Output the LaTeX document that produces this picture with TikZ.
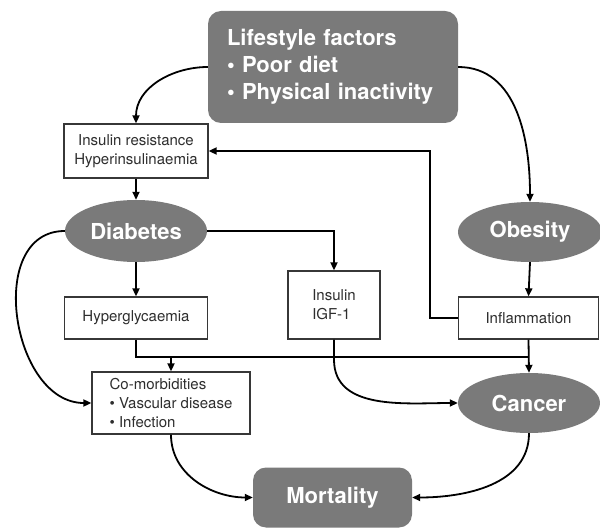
\documentclass[tikz,border=0pt]{standalone}
\usepackage{fontspec}
\setmainfont{TeX Gyre Heros}
\usetikzlibrary{arrows.meta,shapes.geometric}
\definecolor{boxgray}{RGB}{122,122,122}
\definecolor{edgegray}{RGB}{55,55,55}
\tikzset{
  bigtext/.style={font=\fontsize{22}{27}\selectfont\bfseries, text=white},
  smalltext/.style={font=\fontsize{15}{19}\selectfont, text=black!82},
  graybox/.style={fill=boxgray, draw=none, rounded corners=13pt, bigtext, inner sep=0pt},
  grayell/.style={ellipse, fill=boxgray, draw=none, bigtext, inner sep=0pt},
  whitebox/.style={rectangle, fill=white, draw=edgegray, line width=1.3pt, smalltext, inner sep=0pt, align=left},
  arr/.style={line width=1.8pt, -{Triangle[length=8pt,width=7pt]}},
  ln/.style={line width=1.8pt},
}
\begin{document}
\begin{tikzpicture}[x=1pt,y=-1pt]
\useasboundingbox (0,0) rectangle (600,529);
% nodes
\node[graybox, minimum width=250, minimum height=112, text width=212, align=left] (life) at (333,67)
  {Lifestyle factors\\ \textbullet\ Poor diet\\ \textbullet\ Physical inactivity};
\node[whitebox, minimum width=144, minimum height=54, align=center] (ins) at (136,151)
  {Insulin resistance\\Hyperinsulinaemia};
\node[grayell, minimum width=142, minimum height=62] (diab) at (136,231) {Diabetes};
\node[grayell, minimum width=144, minimum height=60] (obes) at (530,232) {Obesity};
\node[whitebox, minimum width=143, minimum height=42] (hyper) at (136,318) {Hyperglycaemia};
\node[whitebox, minimum width=92, minimum height=68] (igf) at (334,305) {Insulin\\IGF-1};
\node[whitebox, minimum width=140, minimum height=42] (infl) at (528.5,318) {Inflammation};
\node[whitebox, minimum width=158, minimum height=62] (comorb) at (171,403)
  {Co-morbidities\\ \textbullet\ Vascular disease\\ \textbullet\ Infection};
\node[grayell, minimum width=142, minimum height=60] (cancer) at (529,403) {Cancer};
\node[graybox, minimum width=159, minimum height=60] (mort) at (332.5,497.5) {Mortality};
\coordinate (j) at (0,357);
\coordinate (k) at (430,0);
% connectors
\draw[arr] (life.west) to[out=180,in=90] (ins.north);
\draw[arr] (life.east) to[out=0,in=90] (obes.north);
\draw[arr] (ins.south) -- (diab.north);
\draw[arr] (diab.south) -- (hyper.north);
\draw[arr] (diab.east) -| (igf.north);
\draw[arr] (obes.south) -- (infl.north);
\draw[arr] (infl.west) -- (k |- infl.west) -- (k |- ins.east) -- (ins.east);
\draw[ln] (hyper.south) |- (cancer.north |- j);
\draw[arr] (infl.south) -- (cancer.north);
\draw[arr] (comorb.north |- j) -- (comorb.north);
\draw[arr] (igf.south) -- ++(0,20) to[out=-90,in=180] (cancer.west);
\draw[arr] (diab.west) .. controls +(-80,0) and +(-80,0) .. (comorb.west);
\draw[arr] (comorb.south) to[out=-90,in=180] (mort.west);
\draw[arr] (cancer.south) to[out=-90,in=0] (mort.east);
\end{tikzpicture}
\end{document}
